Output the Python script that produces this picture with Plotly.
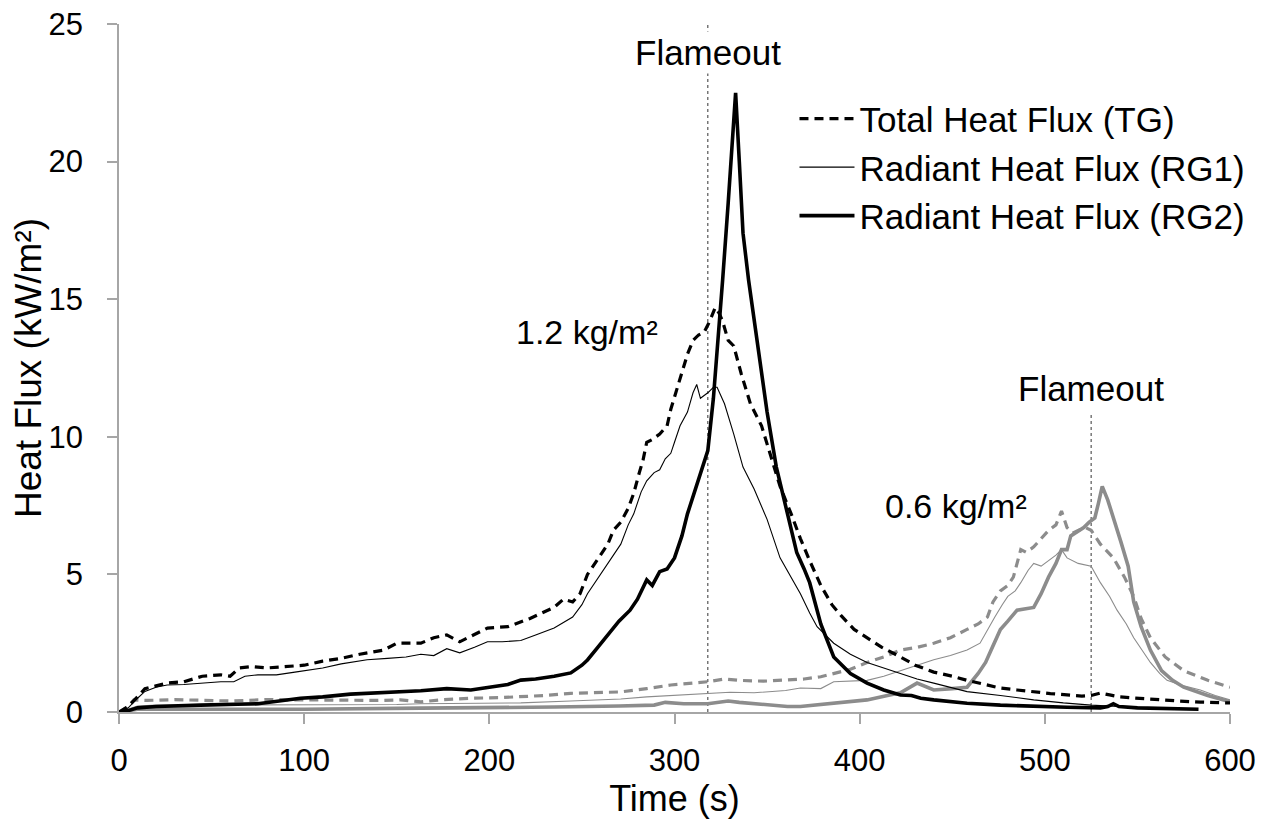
import plotly.graph_objects as go

# ---------------- data ----------------
# 1.2 kg/m2 test (black)
t_tg12 = [0, 5, 10, 14, 20, 26, 35, 45, 55, 60, 65, 72, 80, 90, 100, 110, 120, 130, 143, 150, 160, 163, 170,
          177, 184, 192, 199, 210, 222, 235, 240, 245, 249, 253, 258, 264, 267, 271, 275, 278, 281, 283, 285,
          288, 292, 296, 298, 301, 304, 307, 310, 313, 316, 319, 322, 324, 326, 329, 332, 336, 341, 347, 352,
          357, 363, 368, 373, 379, 385, 390, 397, 404, 412, 422, 430, 440, 450, 458, 467, 476, 485, 494, 503,
          512, 520, 525, 530, 535, 540, 548, 560, 572, 584, 600]
v_tg12 = [0, 0.2, 0.55, 0.85, 0.95, 1.05, 1.1, 1.3, 1.35, 1.3, 1.6, 1.65, 1.6, 1.65, 1.7, 1.85, 1.95, 2.1, 2.25,
          2.5, 2.5, 2.5, 2.7, 2.8, 2.55, 2.8, 3.05, 3.1, 3.4, 3.8, 4.1, 4.0, 4.3, 5.0, 5.5, 6.1, 6.6, 6.9, 7.4,
          7.95, 8.7, 9.15, 9.8, 9.9, 10.1, 10.4, 11.0, 11.7, 12.4, 13.0, 13.5, 13.7, 13.8, 14.2, 14.7, 14.5,
          14.2, 13.5, 13.3, 12.3, 11.2, 10.4, 9.3, 8.2, 7.2, 6.3, 5.5, 4.6, 3.9, 3.5, 3.0, 2.7, 2.35, 2.0, 1.7,
          1.45, 1.3, 1.15, 1.0, 0.87, 0.8, 0.73, 0.67, 0.62, 0.58, 0.6, 0.69, 0.62, 0.55, 0.51, 0.45, 0.4,
          0.36, 0.33]

t_rg1_12 = [0, 5, 10, 14, 20, 26, 35, 45, 55, 62, 68, 75, 85, 95, 100, 110, 120, 134, 145, 155, 163, 170, 177,
            184, 192, 199, 207, 217, 225, 235, 245, 250, 253, 258, 264, 268, 271, 275, 278, 282, 285, 289, 292,
            295, 298, 300, 303, 307, 310, 312, 314, 316, 318, 321, 323, 325, 327, 332, 337, 343, 350, 357, 363,
            368, 373, 377, 386, 395, 404, 413, 422, 431, 440, 449, 458, 476, 494, 510, 525, 540, 560, 580]
v_rg1_12 = [0, 0.15, 0.5, 0.75, 0.9, 0.98, 1.0, 1.05, 1.1, 1.1, 1.3, 1.35, 1.35, 1.45, 1.5, 1.6, 1.75, 1.9,
            1.95, 2.0, 2.1, 2.05, 2.3, 2.15, 2.35, 2.55, 2.55, 2.6, 2.8, 3.05, 3.45, 3.9, 4.3, 4.8, 5.4, 5.8,
            6.1, 6.8, 7.2, 8.0, 8.4, 8.7, 8.8, 9.2, 9.4, 9.8, 10.4, 10.9, 11.6, 11.9, 11.4, 11.5, 11.6, 11.8,
            11.8, 11.5, 11.2, 10.1, 8.9, 8.1, 7.0, 5.6, 4.9, 4.3, 3.6, 3.1, 2.5, 2.1, 1.8, 1.6, 1.4, 1.2, 1.05,
            0.9, 0.74, 0.6, 0.44, 0.33, 0.25, 0.2, 0.14, 0.1]

t_rg2_12 = [0, 5, 10, 20, 44, 60, 75, 98, 110, 125, 140, 152, 163, 177, 190, 200, 210, 217, 225, 235, 244, 250,
            253, 258, 265, 270, 276, 280, 285, 288, 292, 296, 300, 304, 307, 312, 315, 318, 321, 323, 326, 329,
            331, 333, 335, 337, 340, 345, 350, 355, 361, 366, 370, 373, 379, 386, 395, 404, 413, 422, 428, 433,
            440, 458, 476, 494, 512, 530, 534, 537, 540, 550, 565, 583]
v_rg2_12 = [0, 0.05, 0.15, 0.2, 0.25, 0.28, 0.3, 0.5, 0.55, 0.65, 0.7, 0.74, 0.77, 0.85, 0.8, 0.9, 1.0, 1.16,
            1.2, 1.3, 1.42, 1.7, 1.89, 2.3, 2.87, 3.3, 3.7, 4.1, 4.8, 4.6, 5.1, 5.2, 5.6, 6.4, 7.2, 8.2, 8.8, 9.5,
            11.4, 13.3, 15.7, 18.5, 20.5, 22.5, 20.0, 17.4, 15.7, 13.3, 10.9, 8.9, 7.2, 5.8, 5.2, 4.7, 3.2, 2.0,
            1.4, 1.05, 0.8, 0.62, 0.6, 0.5, 0.44, 0.32, 0.25, 0.2, 0.17, 0.15, 0.2, 0.3, 0.2, 0.15, 0.12, 0.1]

# 0.6 kg/m2 test (grey)
t_tg06 = [0, 5, 8, 15, 30, 44, 60, 80, 98, 120, 140, 152, 163, 175, 190, 205, 217, 230, 244, 258, 271, 285, 298,
          310, 318, 327, 335, 348, 361, 370, 379, 386, 395, 404, 413, 422, 431, 440, 449, 458, 464, 469, 472,
          476, 480, 483, 487, 490, 494, 498, 502, 506, 509, 512, 515, 518, 522, 525, 530, 537, 543, 548, 552,
          557, 565, 575, 588, 600]
v_tg06 = [0, 0.2, 0.44, 0.42, 0.45, 0.44, 0.4, 0.45, 0.44, 0.45, 0.42, 0.44, 0.37, 0.45, 0.5, 0.52, 0.56, 0.6,
          0.68, 0.7, 0.73, 0.85, 0.98, 1.05, 1.1, 1.2, 1.15, 1.12, 1.15, 1.2, 1.28, 1.4, 1.55, 1.8, 2.0, 2.25,
          2.35, 2.5, 2.7, 3.0, 3.2, 3.45, 4.0, 4.4, 4.6, 4.9, 5.9, 5.8, 6.0, 6.3, 6.6, 6.8, 7.3, 6.7, 6.5, 6.6,
          6.7, 6.6, 6.1, 5.6, 4.9, 4.2, 3.4, 2.7, 2.0, 1.5, 1.15, 0.9]

t_rg1_06 = [0, 5, 10, 20, 50, 100, 150, 163, 190, 217, 244, 271, 285, 298, 318, 330, 343, 360, 368, 379, 386,
            395, 404, 413, 422, 431, 440, 449, 458, 465, 469, 473, 477, 480, 484, 487, 491, 494, 498, 502, 506,
            509, 512, 518, 525, 530, 535, 539, 544, 548, 553, 557, 562, 566, 575, 584, 592, 600]
v_rg1_06 = [0, 0.1, 0.22, 0.25, 0.25, 0.25, 0.27, 0.3, 0.32, 0.33, 0.4, 0.47, 0.55, 0.6, 0.7, 0.72, 0.7, 0.78,
            0.87, 0.85, 1.1, 1.12, 1.15, 1.3, 1.5, 1.7, 1.9, 2.05, 2.25, 2.5, 3.0, 3.45, 3.9, 4.2, 4.4, 4.7,
            5.15, 5.4, 5.3, 5.5, 5.7, 5.9, 5.6, 5.4, 5.3, 4.7, 4.2, 3.7, 3.2, 2.7, 2.2, 1.8, 1.4, 1.15, 0.95,
            0.8, 0.6, 0.44]

t_rg2_06 = [0, 5, 10, 50, 100, 163, 200, 235, 270, 289, 295, 305, 318, 329, 335, 343, 361, 368, 385, 404, 415,
            422, 431, 436, 440, 450, 458, 464, 468, 471, 476, 480, 485, 494, 498, 502, 506, 509, 512, 514, 518,
            521, 524, 527, 529, 531, 534, 537, 541, 545, 548, 552, 557, 563, 569, 575, 588, 600]
v_rg2_06 = [0, 0.05, 0.1, 0.1, 0.1, 0.14, 0.15, 0.18, 0.22, 0.25, 0.35, 0.3, 0.3, 0.4, 0.35, 0.3, 0.2, 0.2,
            0.3, 0.44, 0.6, 0.7, 1.05, 0.9, 0.8, 0.85, 0.9, 1.4, 1.8, 2.25, 3.0, 3.3, 3.7, 3.8, 4.3, 4.9, 5.4,
            5.9, 5.9, 6.4, 6.55, 6.7, 6.9, 7.05, 7.6, 8.2, 7.7, 7.1, 6.2, 5.3, 4.0, 3.1, 2.25, 1.5, 1.15, 0.9,
            0.6, 0.37]

series_names = ["Total Heat Flux (TG)", "Radiant Heat Flux (RG1)", "Radiant Heat Flux (RG2)"]
flameout_times = [318, 525]
flameout_tops = [25.2, 10.9]
flameout_label_y = [23.95, 11.75]
load_labels = ["1.2 kg/m²", "0.6 kg/m²"]
load_label_pos = [(253, 13.8), (452, 7.5)]
x_ticks = [0, 100, 200, 300, 400, 500, 600]
y_ticks = [0, 5, 10, 15, 20, 25]

BLACK = "#000000"
GREY = "#8c8c8c"
FONT = "Liberation Sans, Arial, sans-serif"

fig = go.Figure()

def add(t, v, color, kind, name=None, show=False):
    if kind == "tg":
        line = dict(color=color, width=3.2, dash="9px,6px")
    elif kind == "rg1":
        line = dict(color=color, width=1.1)
    else:
        line = dict(color=color, width=3.6)
    fig.add_trace(go.Scatter(x=t, y=v, mode="lines", line=line, name=name,
                             showlegend=show, hoverinfo="skip", cliponaxis=False))

add(t_tg06, v_tg06, GREY, "tg")
add(t_rg1_06, v_rg1_06, GREY, "rg1")
add(t_rg2_06, v_rg2_06, GREY, "rg2")
add(t_tg12, v_tg12, BLACK, "tg", series_names[0], True)
add(t_rg1_12, v_rg1_12, BLACK, "rg1", series_names[1], True)
add(t_rg2_12, v_rg2_12, BLACK, "rg2", series_names[2], True)

# flameout markers
for ft, top, ly in zip(flameout_times, flameout_tops, flameout_label_y):
    fig.add_shape(type="line", xref="x", yref="y", x0=ft, x1=ft, y0=0, y1=top,
                  line=dict(color="#333333", width=1, dash="dot"), layer="below")
    fig.add_annotation(x=ft, y=ly, text="Flameout", showarrow=False, bgcolor="white",
                       font=dict(size=35, color="black", family=FONT))
for lab, (lx, ly) in zip(load_labels, load_label_pos):
    fig.add_annotation(x=lx, y=ly, text=lab, showarrow=False,
                       font=dict(size=34, color="black", family=FONT))

axis_common = dict(showline=True, linecolor="#a6a6a6", linewidth=1.5, ticks="outside",
                   tickcolor="#a6a6a6", ticklen=10, tickwidth=1.5, showgrid=False, zeroline=False,
                   tickfont=dict(size=31, color="black", family=FONT), mirror=False, automargin=False,
                   ticklabeloverflow="allow")

fig.update_xaxes(range=[0, 600], tickvals=x_ticks, ticklabelstandoff=10,
                 title=dict(text="Time (s)", font=dict(size=36, color="black", family=FONT), standoff=2),
                 **axis_common)
fig.update_yaxes(range=[0, 25], tickvals=y_ticks, ticklabelstandoff=18,
                 title=dict(text="Heat Flux (kW/m²)", font=dict(size=37, color="black", family=FONT), standoff=4),
                 **axis_common)

fig.update_layout(
    width=1274, height=827,
    margin=dict(l=111, r=52, t=16, b=123),
    paper_bgcolor="white", plot_bgcolor="white",
    font=dict(family=FONT, color="black"),
    legend=dict(x=0.608, y=0.905, xanchor="left", yanchor="top", bgcolor="rgba(0,0,0,0)",
                font=dict(size=35, color="black", family=FONT), tracegroupgap=0, itemwidth=55),
    showlegend=True,
)

fig.write_html("out.html")
